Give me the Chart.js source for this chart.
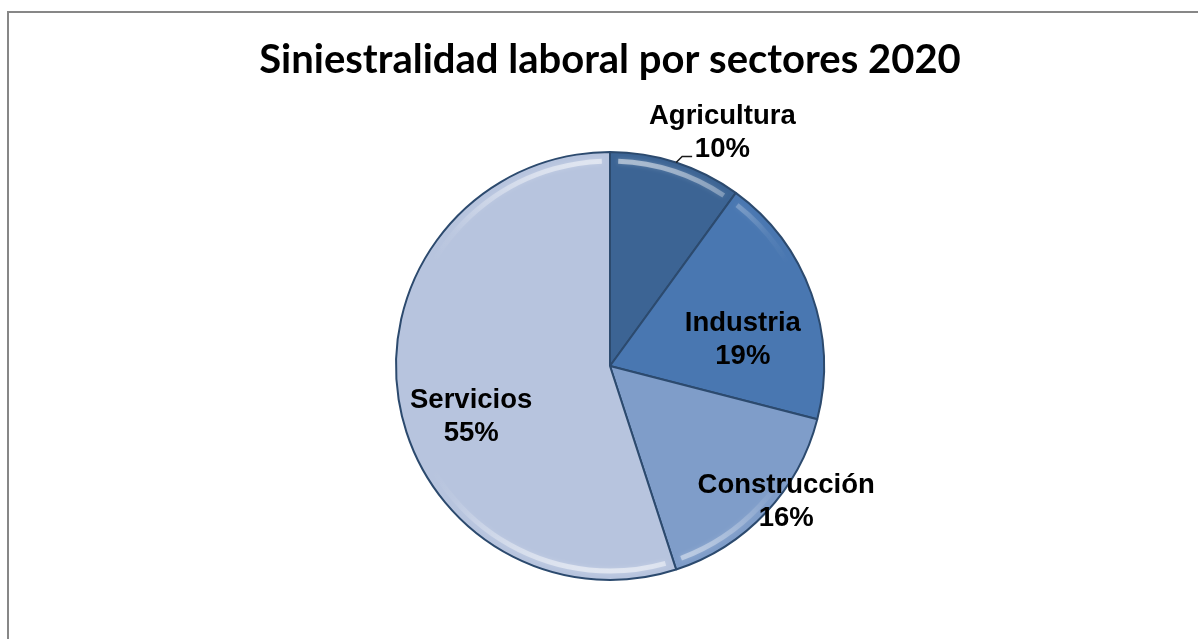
<!DOCTYPE html>
<html>
<head>
<meta charset="utf-8">
<script src="https://cdn.jsdelivr.net/npm/chart.js@4/dist/chart.umd.min.js"></script>
<style>
  html, body { margin: 0; padding: 0; background: #fff; }
  #wrap { width: 1198px; height: 639px; position: relative; }
</style>
</head>
<body>
<div id="wrap"><canvas id="pieChart" width="1198" height="639"></canvas></div>
<script>
// datos
const sectores = ['Agricultura', 'Industria', 'Construcción', 'Servicios'];
const porcentajes = [10, 19, 16, 55];
const colores = ['#3c6494', '#4977b1', '#7f9dc9', '#b7c4de'];

// posicion de etiquetas: factor de radio + ajuste fino
const labelPos = [
    { f: 1.20, dx: 33, dy: 11 },
    { f: 0.63, dx: 6, dy: 20 },
    { f: 1.04, dx: 14, dy: -16 },
    { f: 0.69, dx: 7, dy: 28 }
];

const marcoPlugin = {
    id: 'marco',
    beforeDraw(chart) {
        const ctx = chart.ctx;
        ctx.save();
        ctx.fillStyle = '#fff';
        ctx.fillRect(0, 0, chart.width, chart.height);
        ctx.strokeStyle = '#878787';
        ctx.lineWidth = 2;
        ctx.strokeRect(8, 12, 1400, 900);
        ctx.restore();
    }
};

// brillo en el borde superior e inferior
const brilloPlugin = {
    id: 'brillo',
    afterDatasetsDraw(chart) {
        const ctx = chart.ctx;
        const arcs = chart.getDatasetMeta(0).data;
        arcs.forEach(arc => {
            const { x, y, startAngle, endAngle, outerRadius } = arc.getProps(['x', 'y', 'startAngle', 'endAngle', 'outerRadius']);
            // gradiente conico: claro arriba y abajo, nada a los lados
            const grad = ctx.createConicGradient(0, x, y);
            for (let k = 0; k <= 36; k++) {
                const a = k / 36 * Math.PI * 2;
                const m = Math.abs(Math.sin(a));
                const alpha = Math.max(0, (m - 0.6) / 0.4) * 0.5;
                grad.addColorStop(k / 36, 'rgba(255,255,255,' + alpha.toFixed(3) + ')');
            }
            ctx.save();
            ctx.beginPath();
            ctx.moveTo(x, y);
            ctx.arc(x, y, outerRadius - 2, startAngle, endAngle);
            ctx.closePath();
            ctx.clip();
            ctx.beginPath();
            ctx.arc(x, y, outerRadius - 9, startAngle + 0.04, endAngle - 0.04);
            ctx.strokeStyle = grad;
            ctx.lineWidth = 5;
            ctx.shadowColor = 'rgba(255,255,255,0.4)';
            ctx.shadowBlur = 4;
            ctx.stroke();
            ctx.restore();
        });
    }
};

const etiquetasPlugin = {
    id: 'etiquetas',
    afterDraw(chart) {
        const ctx = chart.ctx;
        const arcs = chart.getDatasetMeta(0).data;
        const total = porcentajes.reduce((a, b) => a + b, 0);
        ctx.save();
        ctx.font = 'bold 27.5px "Liberation Sans", Arial, sans-serif';
        ctx.fillStyle = '#000';
        ctx.textAlign = 'center';
        ctx.textBaseline = 'middle';
        arcs.forEach((arc, i) => {
            const { x, y, startAngle, endAngle, outerRadius } = arc.getProps(['x', 'y', 'startAngle', 'endAngle', 'outerRadius']);
            const mid = (startAngle + endAngle) / 2;
            const p = labelPos[i];
            const lx = x + Math.cos(mid) * outerRadius * p.f + p.dx;
            const ly = y + Math.sin(mid) * outerRadius * p.f + p.dy;
            const pct = Math.round(porcentajes[i] / total * 100) + '%';
            ctx.fillText(sectores[i], lx, ly - 16.5);
            ctx.fillText(pct, lx, ly + 16.5);
            if (p.f > 1.1) {
                // linea guia
                const ex = x + Math.cos(mid) * outerRadius;
                const ey = y + Math.sin(mid) * outerRadius;
                ctx.beginPath();
                ctx.moveTo(ex, ey);
                ctx.lineTo(ex + 6, ey - 6);
                ctx.lineTo(ex + 16, ey - 6);
                ctx.strokeStyle = '#1a1a1a';
                ctx.lineWidth = 1.5;
                ctx.stroke();
            }
        });
        ctx.restore();
    }
};

document.addEventListener('DOMContentLoaded', function() {
    const ctx = document.getElementById('pieChart').getContext('2d');
    new Chart(ctx, {
        type: 'pie',
        data: {
            labels: sectores,
            datasets: [{
                data: porcentajes,
                backgroundColor: colores,
                borderColor: '#2c4a6e',
                borderWidth: 2
            }]
        },
        options: {
            responsive: false,
            animation: false,
            layout: {
                padding: { top: 36, bottom: 58, left: 22, right: 0 }
            },
            plugins: {
                legend: { display: false },
                tooltip: { enabled: false },
                title: {
                    display: true,
                    text: 'Siniestralidad laboral por sectores 2020',
                    color: '#000',
                    font: { family: 'Lato, "Open Sans", sans-serif', size: 40, weight: 'bold', lineHeight: 1.2 },
                    padding: { top: 0, bottom: 67 }
                }
            }
        },
        plugins: [marcoPlugin, brilloPlugin, etiquetasPlugin]
    });
});
</script>
</body>
</html>
